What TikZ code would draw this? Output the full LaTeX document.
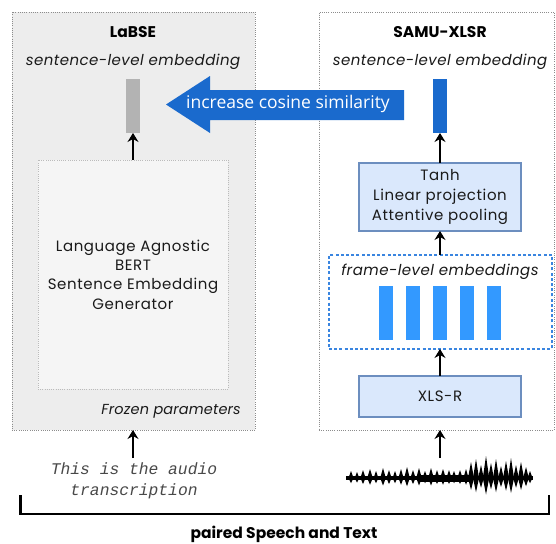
\documentclass[tikz,border=0pt]{standalone}
\usepackage{fontspec}
\setmainfont{Poppins}
\newfontfamily\arrowfont{Open Sans}
\setmonofont{Liberation Mono}
\usetikzlibrary{arrows.meta}
\definecolor{labfill}{HTML}{EDEDED}
\definecolor{innerfill}{HTML}{F5F5F5}
\definecolor{dotgray}{HTML}{8C8C8C}
\definecolor{innerdot}{HTML}{BBBBBB}
\definecolor{bargray}{HTML}{B3B3B3}
\definecolor{darkblue}{HTML}{1A6ACD}
\definecolor{lightblue}{HTML}{DAE8FC}
\definecolor{boxborder}{HTML}{6C8EBF}
\definecolor{framebar}{HTML}{3399FF}
\definecolor{dashblue}{HTML}{3A85E0}
\definecolor{txt}{HTML}{1A1A1A}
\begin{document}
\begin{tikzpicture}[x=1pt,y=-1pt,
  panel/.style={draw=dotgray, line width=0.8pt, dash pattern=on 0.8pt off 1.4pt, anchor=north west, inner sep=0pt, outer sep=0pt},
  innerbox/.style={draw=innerdot, line width=0.8pt, dash pattern=on 0.8pt off 1.4pt, fill=innerfill, anchor=north west, inner sep=0pt, outer sep=0pt, align=center, text=txt, font=\fontsize{15}{19.4}\selectfont\addfontfeature{LetterSpace=4}},
  titletext/.style={font=\fontsize{15.5}{18}\selectfont\bfseries, text=black, inner sep=0pt},
  emb/.style={font=\fontsize{15}{18}\selectfont\itshape\addfontfeature{LetterSpace=3}, text=txt, inner sep=0pt},
  bar/.style={minimum width=14pt, minimum height=54pt, inner sep=0pt, outer sep=0pt},
  bluebox/.style={draw=boxborder, line width=1.2pt, fill=lightblue, minimum width=162pt, inner sep=0pt, outer sep=0pt, align=center, text=txt, font=\fontsize{15}{20}\selectfont\addfontfeature{LetterSpace=4}},
  arr/.style={-{Stealth[length=9pt,width=11pt,inset=3pt]}, line width=1.2pt, black},
  mono/.style={font=\fontsize{16.3}{21}\selectfont\ttfamily\itshape, text=txt!80, align=center, inner sep=0pt},
  spike/.style={fill=black}
]
\useasboundingbox (0,0) rectangle (556,543);
\fill[white] (0,0) rectangle (556,543);

% panels
\node[panel, fill=labfill, minimum width=243pt, minimum height=418pt] (labse) at (12,12) {};
\node[panel, fill=white, minimum width=235pt, minimum height=418pt] (samu) at (319,12) {};

\node[titletext] (labsetitle) at (133,32) {LaBSE};
\node[titletext] (samutitle) at (440,32) {SAMU-XLSR};
\node[emb] (labemb) at (133,62) {sentence-level embedding};
\node[emb] (samuemb) at (440,62) {sentence-level embedding};

% embedding bars
\node[bar, fill=bargray] (gbar) at (133,106) {};
\node[bar, fill=darkblue] (bbar) at (440,106) {};

% big arrow
\fill[darkblue] (166,104.5) -- (210,76) -- (210,90) -- (404,90) -- (404,120) -- (210,120) -- (210,133) -- cycle;
\node[font=\arrowfont\fontsize{17.5}{20}\selectfont, text=white, inner sep=0pt] (cosine) at (288,104) {increase cosine similarity};

% inner BERT box
\node[innerbox, minimum width=190pt, minimum height=229pt] (bert) at (38,160) {Language Agnostic\\BERT\\Sentence Embedding\\Generator};
\node[emb, anchor=east, font=\fontsize{14.5}{18}\selectfont\itshape\addfontfeature{LetterSpace=1}] (frozen) at (241,411) {Frozen parameters};

% SAMU-XLSR stack
\node[bluebox, minimum height=68pt] (tanh) at (440,197) {Tanh\\Linear projection\\Attentive pooling};
\node[draw=dashblue, line width=1.2pt, dash pattern=on 3pt off 2.2pt, minimum width=223pt, minimum height=94pt, inner sep=0pt, outer sep=0pt] (frames) at (440.5,302) {};
\node[emb] (framelabel) at (440,272) {frame-level embeddings};
\foreach \i/\xx in {1/386,2/413,3/440,4/467,5/494}{
  \node[bar, fill=framebar] (fb\i) at (\xx,313) {};
}
\node[bluebox, minimum height=41pt] (xlsr) at (440,396.5) {XLS-R};

% inputs
\node[mono] (transc) at (134,481) {This is the audio\\transcription};
\coordinate (txtin) at (133,458);
\coordinate (wav) at (440,458);

% waveform
\fill[black] (346,476.3) rectangle (533,479.7);
\fill[black] (418,474.5) rectangle (470,481.5);
\foreach \sx/\sa/\sw in {351/7/2.5, 357/6/2.3, 363/8/2.6, 370/9/2.8, 376/7/2.4, 383/10/2.8, 389/8/2.6, 395/7/2.4, 401/9/2.6, 407/11/2.8, 413/8/2.6, 419/10/2.8, 425/7/2.6, 431/10/2.8, 437/8/2.6, 443/9/2.8, 449/8/2.6, 454/7/2.6, 460/8/2.6, 466/9/2.6,
  471/16/3, 476/19/3, 481/13/2.8, 486/22/3.2, 491/15/2.9, 496/19/3, 501/12/2.8, 506/17/3, 511/20/3, 516/13/2.8, 521/16/3, 526/11/2.8, 530/7/2.5}{
  \fill[spike] (\sx-\sw,478) -- (\sx,478-\sa) -- (\sx+\sw,478) -- (\sx,478+0.75*\sa) -- cycle;
}

% connectors
\draw[arr] (bert.north) -- (gbar.south);
\draw[arr] (tanh.north) -- (bbar.south);
\draw[arr] (frames.north -| tanh.north) -- (tanh.south);
\draw[arr] (xlsr.north) -- (frames.south -| xlsr.north);
\draw[arr] (txtin) -- (txtin |- labse.south);
\draw[arr] (wav) -- (wav |- samu.south);

% bracket
\coordinate (brl) at (20.5,495);
\coordinate (brr) at (549,495);
\draw[line width=2.6pt, black] (brl) -- (20.5,514) -- (549,514) -- (brr);
\node[titletext] (paired) at (284,534) {paired Speech and Text};
\end{tikzpicture}
\end{document}
